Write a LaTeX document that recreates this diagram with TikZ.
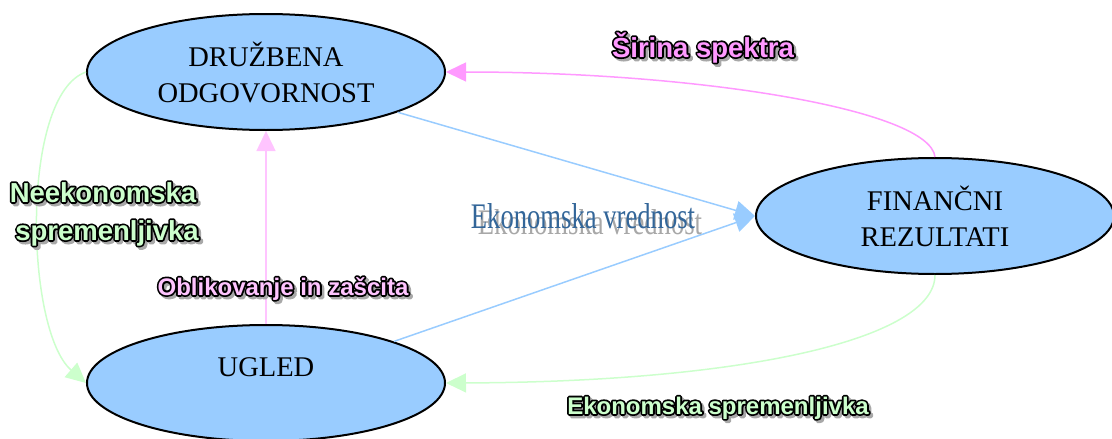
\documentclass[tikz,border=0pt]{standalone}
\usepackage{fontspec}
\usepackage{graphicx}
\setmainfont{Liberation Serif}
\newfontfamily\labfont{Liberation Sans}
\usetikzlibrary{shapes.geometric,arrows.meta}
\definecolor{nodeblue}{HTML}{99CCFF}
\definecolor{linkpink}{HTML}{FF99FF}
\definecolor{linkgreen}{HTML}{CCFFCC}
\definecolor{lightpink}{HTML}{FFC4FF}
\definecolor{valblue}{HTML}{336699}
\definecolor{shadowgray}{HTML}{A8A8A8}
\tikzset{
  concept/.style={ellipse, draw=black, line width=2pt, fill=nodeblue, inner sep=0pt,
    minimum width=358pt, minimum height=116pt, align=center,
    font=\fontsize{28.5}{36}\selectfont},
  nodetext/.style={font=\fontsize{28.5}{36}\selectfont, inner sep=0pt, anchor=base},
  link/.style={line width=1.5pt, -{Triangle[length=20pt,width=19pt]}},
  biglab/.style={font=\labfont\bfseries\fontsize{27.5}{30}\selectfont, inner sep=0pt, anchor=base},
  smalllab/.style={font=\labfont\bfseries\fontsize{24}{27}\selectfont, inner sep=0pt, anchor=base},
  vallab/.style={font=\fontsize{36}{40}\selectfont, inner sep=0pt, anchor=base},
}
\newcommand\olt[2]{\leavevmode
  \rlap{\kern2.5pt\raisebox{-2.5pt}{\color{shadowgray}\special{pdf:literal direct 2 Tr 3.5 w 1 j}#2\special{pdf:literal direct 0 Tr}}}%
  \rlap{\color{black}\special{pdf:literal direct 1 Tr 3.5 w 1 j}#2\special{pdf:literal direct 0 Tr}}%
  {\color{#1}#2}}
\begin{document}
\begin{tikzpicture}[x=1pt,y=-1pt]
\useasboundingbox (0,0) rectangle (1112,439);
\node[concept] (dr) at (266,72) {DRUŽBENA\\ODGOVORNOST};
\node[concept] (fi) at (935,216) {FINANČNI\\REZULTATI};
\node[concept] (ug) at (266,383) {};
\node[nodetext] (ugt) at (266,376) {UGLED};
% connectors
\draw[link, draw=linkpink] (fi.north) .. controls (930,110) and (700,72) .. (dr.east);
\draw[link, draw=linkgreen] (dr.west) .. controls (20,95) and (25,330) .. (ug.west);
\draw[link, draw=lightpink] (ug.north) -- (dr.south);
\draw[link, draw=nodeblue] (dr.-17.6) -- (fi.west);
\draw[link, draw=nodeblue] (ug.18.4) -- (fi.west);
\draw[link, draw=linkgreen] (fi.south) .. controls (935,340) and (740,382) .. (ug.east);
% labels
\node[biglab] (lsir) at (703,57) {\olt{linkpink}{Širina spektra}};
\node[biglab] (lnee) at (103,202) {\olt{linkgreen}{Neekonomska}};
\node[biglab] (lspr) at (107,240) {\olt{linkgreen}{spremenljivka}};
\node[smalllab] (lobl) at (283,295) {\olt{lightpink}{Oblikovanje in zašcita}};
\node[smalllab] (leko) at (718,414) {\olt{linkgreen}{Ekonomska spremenljivka}};
\node[vallab, text=shadowgray] (lvals) at (590,234) {\scalebox{0.74}[1]{Ekonomska vrednost}};
\node[vallab, text=valblue] (lval) at (583,228) {\scalebox{0.74}[1]{Ekonomska vrednost}};
\end{tikzpicture}
\end{document}
